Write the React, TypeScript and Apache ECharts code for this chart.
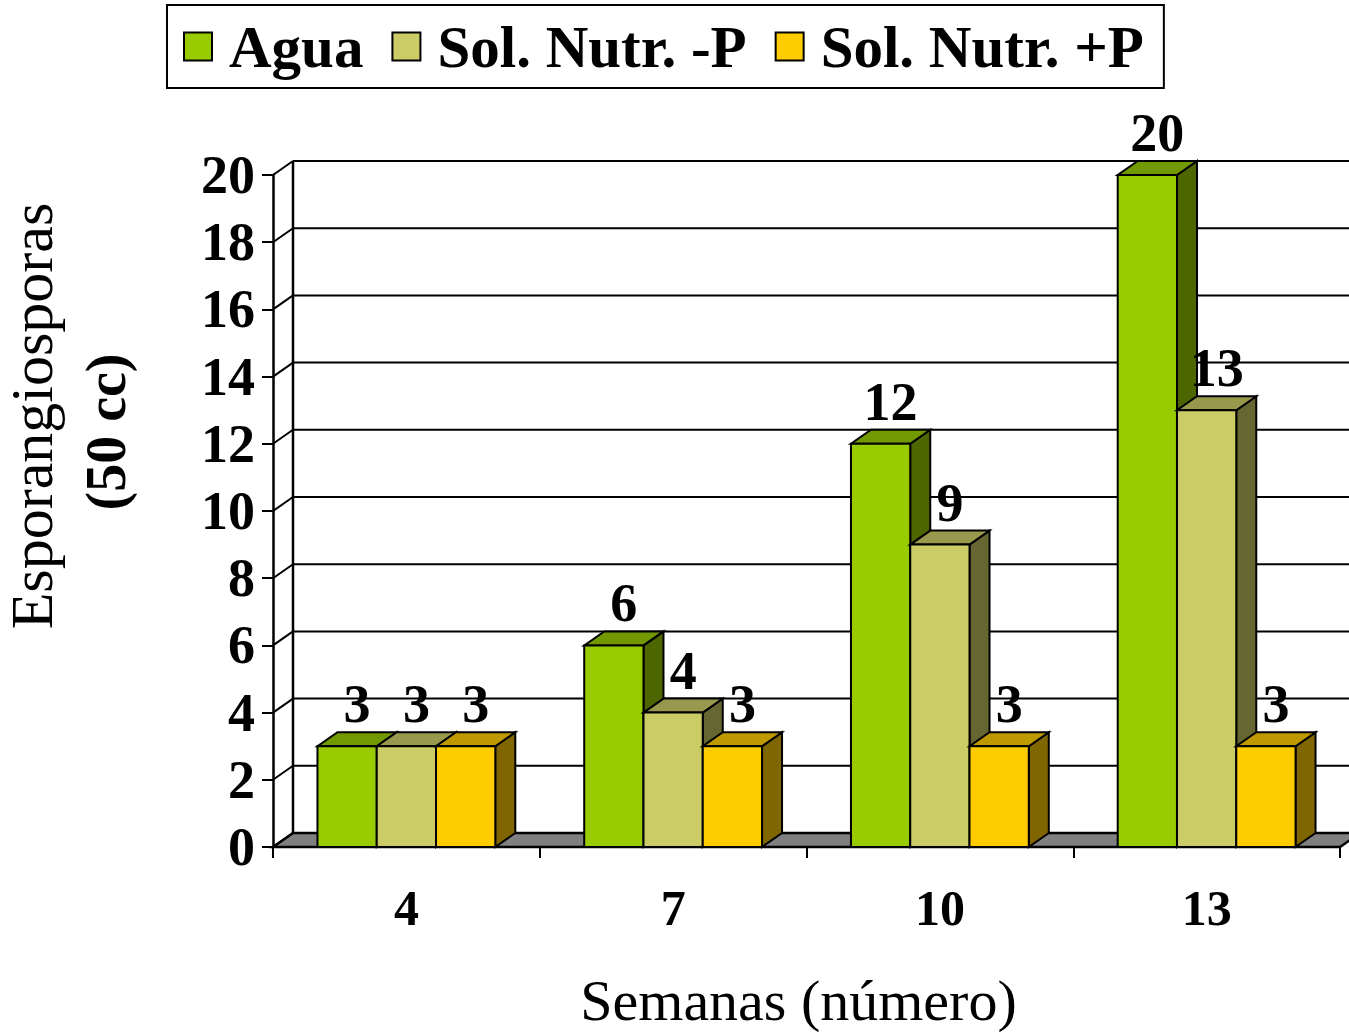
import React, { useEffect, useRef } from "react";
import * as echarts from "echarts";

const categories = ["4", "7", "10", "13"];
const seriesNames = ["Agua", "Sol. Nutr. -P", "Sol. Nutr. +P"];
const aguaValues = [3, 6, 12, 20];
const solMenosPValues = [3, 4, 9, 13];
const solMasPValues = [3, 3, 3, 3];
const yTicks = [0, 2, 4, 6, 8, 10, 12, 14, 16, 18, 20];

const palettes = [
  { front: "#99CC00", top: "#739900", side: "#4D6600" },
  { front: "#CCCC66", top: "#99994D", side: "#666633" },
  { front: "#FFCC00", top: "#BF9900", side: "#806600" },
];

const DX = 20;
const DY = -14;
const FONT = '"Liberation Serif", "Times New Roman", serif';

export default function App() {
  const ref = useRef<HTMLDivElement>(null);
  useEffect(() => {
    if (!ref.current) return;
    const chart = echarts.init(ref.current, null, { renderer: "svg" });
    const allValues = [aguaValues, solMenosPValues, solMasPValues];

    const wallSeries: any = {
      type: "custom",
      name: "wall",
      silent: true,
      z: 1,
      data: yTicks.map((v) => [0, v]),
      renderItem: (params: any, api: any) => {
        const v = api.value(1);
        const band = api.size([1, 0])[0];
        const p = api.coord([0, v]);
        const x0 = p[0] - band / 2;
        const xEnd = x0 + band * categories.length;
        const y = p[1];
        const children: any[] = [];
        if (v === 0) {
          children.push({
            type: "polygon",
            shape: { points: [[x0, y], [xEnd, y], [xEnd + DX, y + DY], [x0 + DX, y + DY]] },
            style: { fill: "#808080", stroke: "#000", lineWidth: 2.5 },
          });
          const ptop = api.coord([0, yTicks[yTicks.length - 1]]);
          children.push({
            type: "line",
            shape: { x1: x0 + DX, y1: y + DY, x2: x0 + DX, y2: ptop[1] + DY },
            style: { stroke: "#000", lineWidth: 2.5 },
          });
        } else {
          children.push({
            type: "line",
            shape: { x1: x0 + DX, y1: y + DY, x2: xEnd + DX, y2: y + DY },
            style: { stroke: "#000", lineWidth: 2 },
          });
        }
        children.push({
          type: "line",
          shape: { x1: x0, y1: y, x2: x0 + DX, y2: y + DY },
          style: { stroke: "#000", lineWidth: 2 },
        });
        return { type: "group", children };
      },
    };

    const barSeries = allValues.map((vals, idx) => ({
      type: "custom",
      name: seriesNames[idx],
      z: 2 + idx,
      itemStyle: { color: palettes[idx].front, borderColor: "#000", borderWidth: 2 },
      data: vals.map((v, i) => [i, v]),
      renderItem: (params: any, api: any) => {
        const cat = api.value(0);
        const v = api.value(1);
        const base = api.coord([cat, 0]);
        const top = api.coord([cat, v]);
        const band = api.size([1, 0])[0];
        const bw = (band * 2) / 9;
        const x1 = base[0] - band / 3 + idx * bw;
        const x2 = x1 + bw;
        const y0 = base[1];
        const y1 = top[1];
        const pal = palettes[idx];
        const stroke = { stroke: "#000", lineWidth: 2, lineJoin: "miter" };
        return {
          type: "group",
          children: [
            {
              type: "polygon",
              shape: { points: [[x2, y0], [x2 + DX, y0 + DY], [x2 + DX, y1 + DY], [x2, y1]] },
              style: { fill: pal.side, ...stroke },
            },
            {
              type: "polygon",
              shape: { points: [[x1, y1], [x2, y1], [x2 + DX, y1 + DY], [x1 + DX, y1 + DY]] },
              style: { fill: pal.top, ...stroke },
            },
            {
              type: "polygon",
              shape: { points: [[x1, y0], [x2, y0], [x2, y1], [x1, y1]] },
              style: { fill: pal.front, ...stroke },
            },
            {
              type: "text",
              z2: 10,
              style: {
                text: String(v),
                x: x1 + bw / 2 + DX / 2,
                y: y1 + DY - 28,
                align: "center",
                verticalAlign: "middle",
                fontFamily: FONT,
                fontWeight: "bold",
                fontSize: 54,
                fill: "#000",
              },
            },
          ],
        };
      },
    }));

    chart.setOption({
      animation: false,
      backgroundColor: "#fff",
      textStyle: { fontFamily: FONT },
      grid: { left: 273, right: 9, top: 175, bottom: 185, containLabel: false, outerBoundsMode: "none" },
      legend: {
        data: seriesNames,
        left: 167,
        top: 5,
        orient: "horizontal",
        itemWidth: 28,
        itemHeight: 28,
        itemGap: 28,
        icon: "rect",
        borderColor: "#000",
        borderWidth: 2,
        padding: [12, 20, 12, 16],
        itemStyle: { borderColor: "#000", borderWidth: 2 },
        textStyle: {
          fontFamily: FONT,
          fontWeight: "bold",
          fontSize: 59,
          color: "#000",
          lineHeight: 58,
          padding: [0, 0, 0, 12],
        },
      },
      xAxis: {
        type: "category",
        data: categories,
        axisLine: { show: false },
        axisTick: { show: true, length: 11, lineStyle: { color: "#000", width: 2 } },
        axisLabel: {
          margin: 36,
          fontFamily: FONT,
          fontWeight: "bold",
          fontSize: 50,
          color: "#000",
        },
        name: "Semanas (número)",
        nameLocation: "middle",
        nameGap: 124,
        nameTextStyle: { fontFamily: FONT, fontSize: 58, color: "#000", padding: [0, 16, 0, 0] },
        splitLine: { show: false },
      },
      yAxis: {
        type: "value",
        min: 0,
        max: 20,
        interval: 2,
        axisLine: { show: true, lineStyle: { color: "#000", width: 2.5 } },
        axisTick: { show: true, length: 11, lineStyle: { color: "#000", width: 2 } },
        axisLabel: {
          margin: 18,
          fontFamily: FONT,
          fontWeight: "bold",
          fontSize: 54,
          color: "#000",
        },
        splitLine: { show: false },
      },
      graphic: [
        {
          type: "text",
          x: 32,
          y: 416,
          rotation: Math.PI / 2,
          style: {
            text: "Esporangiosporas",
            align: "center",
            verticalAlign: "middle",
            fontFamily: FONT,
            fontSize: 60,
            fill: "#000",
          },
        },
        {
          type: "text",
          x: 106,
          y: 432,
          rotation: Math.PI / 2,
          style: {
            text: "(50 cc)",
            align: "center",
            verticalAlign: "middle",
            fontFamily: FONT,
            fontWeight: "bold",
            fontSize: 56,
            fill: "#000",
          },
        },
      ],
      series: [wallSeries, ...barSeries],
    });
    return () => chart.dispose();
  }, []);
  return (
    <div
      ref={ref}
      style={{ position: "absolute", left: 0, top: 0, width: 1349, height: 1032 }}
    />
  );
}
